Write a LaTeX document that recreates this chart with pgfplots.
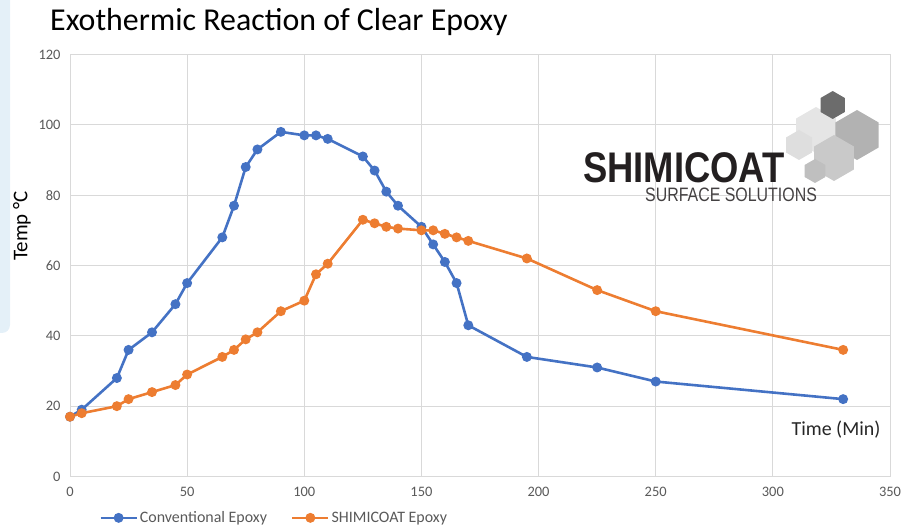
\documentclass[border=0pt]{standalone}
\usepackage{fontspec}
\setmainfont{Carlito}
\newfontfamily\logofont{Liberation Sans}
\usepackage{graphicx}
\usepackage{pgfplots}
\pgfplotsset{compat=1.18}
\usepackage{pgfplotstable}
\usetikzlibrary{shapes.geometric}
\definecolor{cblue}{HTML}{4472C4}
\definecolor{corange}{HTML}{ED7D31}
\definecolor{gridc}{HTML}{D9D9D9}
\definecolor{ticktext}{HTML}{595959}
\definecolor{panel}{HTML}{E4F0F8}
\definecolor{logotext}{HTML}{231F20}

\pgfplotstableread{
x y
0 17
5 19
20 28
25 36
35 41
45 49
50 55
65 68
70 77
75 88
80 93
90 98
100 97
105 97
110 96
125 91
130 87
135 81
140 77
150 71
155 66
160 61
165 55
170 43
195 34
225 31
250 27
330 22
}\conv

\pgfplotstableread{
x y
0 17
5 18
20 20
25 22
35 24
45 26
50 29
65 34
70 36
75 39
80 41
90 47
100 50
105 57.5
110 60.5
125 73
130 72
135 71
140 70.5
150 70
155 70
160 69
165 68
170 67
195 62
225 53
250 47
330 36
}\shimi

\begin{document}
\begin{tikzpicture}[x=1bp,y=1bp]
\useasboundingbox (0,0) rectangle (914,530);
\fill[panel, rounded corners=8bp] (-20,197) rectangle (10,545);
\node[anchor=base west, inner sep=0, font=\fontsize{32}{36}\selectfont] at (50,499) {Exothermic Reaction of Clear Epoxy};
\begin{axis}[
  at={(70bp,53.5bp)}, anchor=south west,
  scale only axis, width=820bp, height=422bp,
  xmin=0, xmax=350, ymin=0, ymax=120,
  xtick={0,50,...,350}, ytick={0,20,...,120},
  grid=major,
  major grid style={draw=gridc, line width=0.8bp},
  axis line style={draw=gridc, line width=0.8bp},
  tick style={draw=none},
  /pgf/number format/assume math mode=true,
  ticklabel style={font=\fontsize{14.5}{16}\selectfont, text=ticktext},
  xticklabel style={yshift=-7bp},
  yticklabel style={xshift=-6bp},
  legend style={at={(axis description cs:0.249,-0.098)}, anchor=center, draw=none, fill=none,
    font=\fontsize{16}{18}\selectfont, text=ticktext,
    /tikz/every even column/.append style={column sep=22bp}},
  legend columns=2,
  legend image code/.code={\draw[mark repeat=2,mark phase=2] plot coordinates {(0bp,0bp) (18bp,0bp) (36bp,0bp)};},
  every axis plot/.append style={line width=2.6bp, mark=*, mark size=3.6bp, mark options={solid}},
]
\addplot[cblue, mark options={fill=cblue, draw=cblue}] table[x=x,y=y] {\conv};
\addlegendentry{Conventional Epoxy}
\addplot[corange, mark options={fill=corange, draw=corange}] table[x=x,y=y] {\shimi};
\addlegendentry{SHIMICOAT Epoxy}
\end{axis}
\node[rotate=90, font=\fontsize{21}{24}\selectfont] at (22,304) {Temp °C};
\node[font=\fontsize{20}{24}\selectfont, text=black!85] at (836,100) {Time (Min)};
% logo
\begin{scope}[every node/.style={regular polygon, regular polygon sides=6, shape border rotate=30, inner sep=0, draw=none}]
\node[fill=gray!20, minimum size=46bp] at (816,400) {};
\node[fill=gray!26, minimum size=30bp] at (799,385) {};
\node[fill=gray!60, minimum size=50bp] at (857,395) {};
\node[fill=gray!42, minimum size=46bp] at (834,372) {};
\node[fill=gray!50, minimum size=24bp] at (815,359) {};
\node[fill=gray!85!black, minimum size=28bp] at (832.7,425) {};
\end{scope}
\node[anchor=base west, inner sep=0, text=logotext] at (583,347) {\scalebox{0.85}[1]{\logofont\bfseries\fontsize{43}{43}\selectfont SHIMICOAT}};
\node[anchor=base west, inner sep=0, text=logotext!85] at (645,328) {\scalebox{0.82}[1]{\logofont\fontsize{19.5}{20}\selectfont SURFACE SOLUTIONS}};
\end{tikzpicture}
\end{document}
